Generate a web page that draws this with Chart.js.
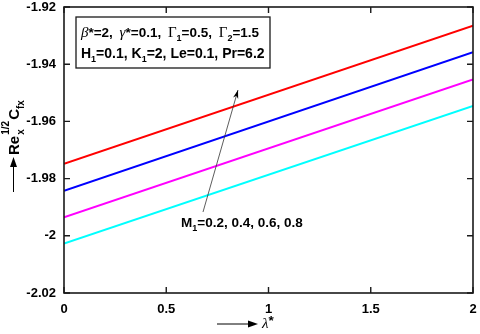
<!DOCTYPE html>
<html>
<head>
<meta charset="utf-8">
<script src="https://cdn.jsdelivr.net/npm/chart.js@4"></script>
<style>
html,body{margin:0;padding:0;background:#fff;}
#c{display:block;}
</style>
</head>
<body>
<canvas id="c" width="480" height="334"></canvas>
<script>
// ---- data ----
const xValues = [0, 2];
const seriesM02 = [-1.9748, -1.9265];
const seriesM04 = [-1.9843, -1.9358];
const seriesM06 = [-1.9935, -1.9453];
const seriesM08 = [-2.0027, -1.9546];
const xTicks = [0, 0.5, 1, 1.5, 2];
const xTickLabels = ['0', '0.5', '1', '1.5', '2'];
const yTicks = [-2.02, -2.0, -1.98, -1.96, -1.94, -1.92];
const yTickLabels = ['-2.02', '-2', '-1.98', '-1.96', '-1.94', '-1.92'];
const seriesColors = ['#ff0000', '#0000ff', '#ff00ff', '#00ffff'];
const seriesNames = ['M1=0.2', 'M1=0.4', 'M1=0.6', 'M1=0.8'];
const allSeries = [seriesM02, seriesM04, seriesM06, seriesM08];

const SANS = '"Liberation Sans", Arial, sans-serif';
const SERIF = '"Liberation Serif", "Times New Roman", serif';

function drawRuns(ctx, x, y, runs) {
  ctx.textBaseline = 'alphabetic';
  ctx.textAlign = 'left';
  for (const r of runs) {
    ctx.font = r.font;
    ctx.fillText(r.t, x, y + (r.dy || 0));
    x += ctx.measureText(r.t).width + (r.gap || 0);
  }
  return x;
}

const B = 'bold 13.5px ' + SANS;
const B2 = 'bold 14px ' + SANS;
const SUB = 'bold 9px ' + SANS;
const IT = 'italic 15px ' + SERIF;
const GR = '15px ' + SERIF;

const decorPlugin = {
  id: 'decor',
  afterDraw(chart) {
    const ctx = chart.ctx;
    const a = chart.chartArea;
    const xs = chart.scales.x, ys = chart.scales.y;
    ctx.save();
    // frame
    ctx.strokeStyle = '#1a1a1a';
    ctx.lineWidth = 1.6;
    ctx.strokeRect(a.left, a.top, a.right - a.left, a.bottom - a.top);
    // inner ticks
    const tl = 6;
    ctx.lineWidth = 1.4;
    ctx.beginPath();
    for (const v of xTicks) {
      const px = xs.getPixelForValue(v);
      ctx.moveTo(px, a.bottom); ctx.lineTo(px, a.bottom - tl);
      ctx.moveTo(px, a.top); ctx.lineTo(px, a.top + tl);
    }
    for (const v of yTicks) {
      const py = ys.getPixelForValue(v);
      ctx.moveTo(a.left, py); ctx.lineTo(a.left + tl, py);
      ctx.moveTo(a.right, py); ctx.lineTo(a.right - tl, py);
    }
    ctx.stroke();

    // parameter box
    ctx.fillStyle = '#fff';
    ctx.fillRect(76, 17, 194, 51);
    ctx.strokeStyle = '#1a1a1a';
    ctx.lineWidth = 1.3;
    ctx.strokeRect(76, 17, 194, 51);
    ctx.fillStyle = '#000';
    drawRuns(ctx, 81, 37, [
      {t: 'β', font: IT},
      {t: '*=2, ', font: B, gap: 3},
      {t: 'γ', font: IT},
      {t: '*=0.1, ', font: B, gap: 3},
      {t: 'Γ', font: GR},
      {t: '1', font: SUB, dy: 4},
      {t: '=0.5, ', font: B, gap: 3},
      {t: 'Γ', font: GR},
      {t: '2', font: SUB, dy: 4},
      {t: '=1.5', font: B}
    ]);
    drawRuns(ctx, 81, 58, [
      {t: 'H', font: B2},
      {t: '1', font: SUB, dy: 4},
      {t: '=0.1, K', font: B2},
      {t: '1', font: SUB, dy: 4},
      {t: '=2, Le=0.1, Pr=6.2', font: B2}
    ]);

    // M1 annotation arrow
    ctx.strokeStyle = '#333';
    ctx.lineWidth = 0.8;
    const x0 = 203, y0 = 212, x1 = 238, y1 = 90;
    ctx.beginPath();
    ctx.moveTo(x0, y0); ctx.lineTo(x1, y1);
    ctx.stroke();
    const ang = Math.atan2(y1 - y0, x1 - x0);
    ctx.fillStyle = '#000';
    ctx.beginPath();
    ctx.moveTo(x1, y1);
    ctx.lineTo(x1 - 9 * Math.cos(ang - 0.3), y1 - 9 * Math.sin(ang - 0.3));
    ctx.lineTo(x1 - 6 * Math.cos(ang), y1 - 6 * Math.sin(ang));
    ctx.lineTo(x1 - 9 * Math.cos(ang + 0.3), y1 - 9 * Math.sin(ang + 0.3));
    ctx.closePath();
    ctx.fill();
    drawRuns(ctx, 181, 227, [
      {t: 'M', font: B},
      {t: '1', font: SUB, dy: 4},
      {t: '=0.2, 0.4, 0.6, 0.8', font: B}
    ]);

    // x-axis title: arrow + lambda*
    ctx.strokeStyle = '#000';
    ctx.lineWidth = 1;
    ctx.beginPath();
    ctx.moveTo(217, 324); ctx.lineTo(252, 324);
    ctx.stroke();
    ctx.beginPath();
    ctx.moveTo(258, 324); ctx.lineTo(248, 320.5); ctx.lineTo(248, 327.5);
    ctx.closePath(); ctx.fill();
    drawRuns(ctx, 262, 328, [
      {t: 'λ', font: 'italic 15px ' + SERIF},
      {t: '*', font: B, dy: -3}
    ]);

    // y-axis title (rotated)
    ctx.save();
    ctx.translate(19, 192);
    ctx.rotate(-Math.PI / 2);
    ctx.beginPath();
    ctx.moveTo(0, -5.5); ctx.lineTo(27, -5.5);
    ctx.stroke();
    ctx.beginPath();
    ctx.moveTo(35, -5.5); ctx.lineTo(25, -9); ctx.lineTo(25, -2);
    ctx.closePath(); ctx.fill();
    let xx = drawRuns(ctx, 37, 0, [{t: 'Re', font: 'bold 15px ' + SANS}]);
    ctx.font = 'bold 10px ' + SANS;
    ctx.fillText('x', xx + 1, 5);
    drawRuns(ctx, xx + 1, -10, [{t: '1/2', font: 'bold 10px ' + SANS}]);
    xx += 16;
    drawRuns(ctx, xx, 0, [
      {t: 'C', font: 'bold 15px ' + SANS},
      {t: 'fx', font: 'bold 10px ' + SANS, dy: 5}
    ]);
    ctx.restore();

    ctx.restore();
  }
};

const datasets = allSeries.map((s, i) => ({
  label: seriesNames[i],
  data: xValues.map((x, j) => ({x: x, y: s[j]})),
  borderColor: seriesColors[i],
  backgroundColor: seriesColors[i],
  borderWidth: 2,
  pointRadius: 0,
  fill: false,
  tension: 0
}));

new Chart(document.getElementById('c'), {
  type: 'line',
  data: {datasets},
  options: {
    responsive: false,
    devicePixelRatio: 1,
    animation: false,
    layout: {padding: {top: 7, right: 7, left: 0, bottom: 0}},
    plugins: {legend: {display: false}, tooltip: {enabled: false}},
    scales: {
      x: {
        type: 'linear', min: 0, max: 2,
        afterBuildTicks: s => { s.ticks = xTicks.map(v => ({value: v})); },
        afterFit: s => { s.height = 41; s.paddingLeft = 0; s.paddingRight = 0; },
        grid: {display: false},
        border: {display: false},
        ticks: {
          color: '#000', padding: 1, maxRotation: 0,
          font: {family: SANS, size: 13, weight: 'bold'},
          callback: v => xTickLabels[xTicks.indexOf(v)]
        }
      },
      y: {
        type: 'linear', min: -2.02, max: -1.92,
        afterBuildTicks: s => { s.ticks = yTicks.map(v => ({value: v})); },
        afterFit: s => { s.width = 64; s.paddingTop = 0; s.paddingBottom = 0; },
        grid: {display: false},
        border: {display: false},
        ticks: {
          color: '#000', padding: 0,
          font: {family: SANS, size: 13, weight: 'bold'},
          callback: (v, i) => yTickLabels[i]
        }
      }
    }
  },
  plugins: [decorPlugin]
});
</script>
</body>
</html>
